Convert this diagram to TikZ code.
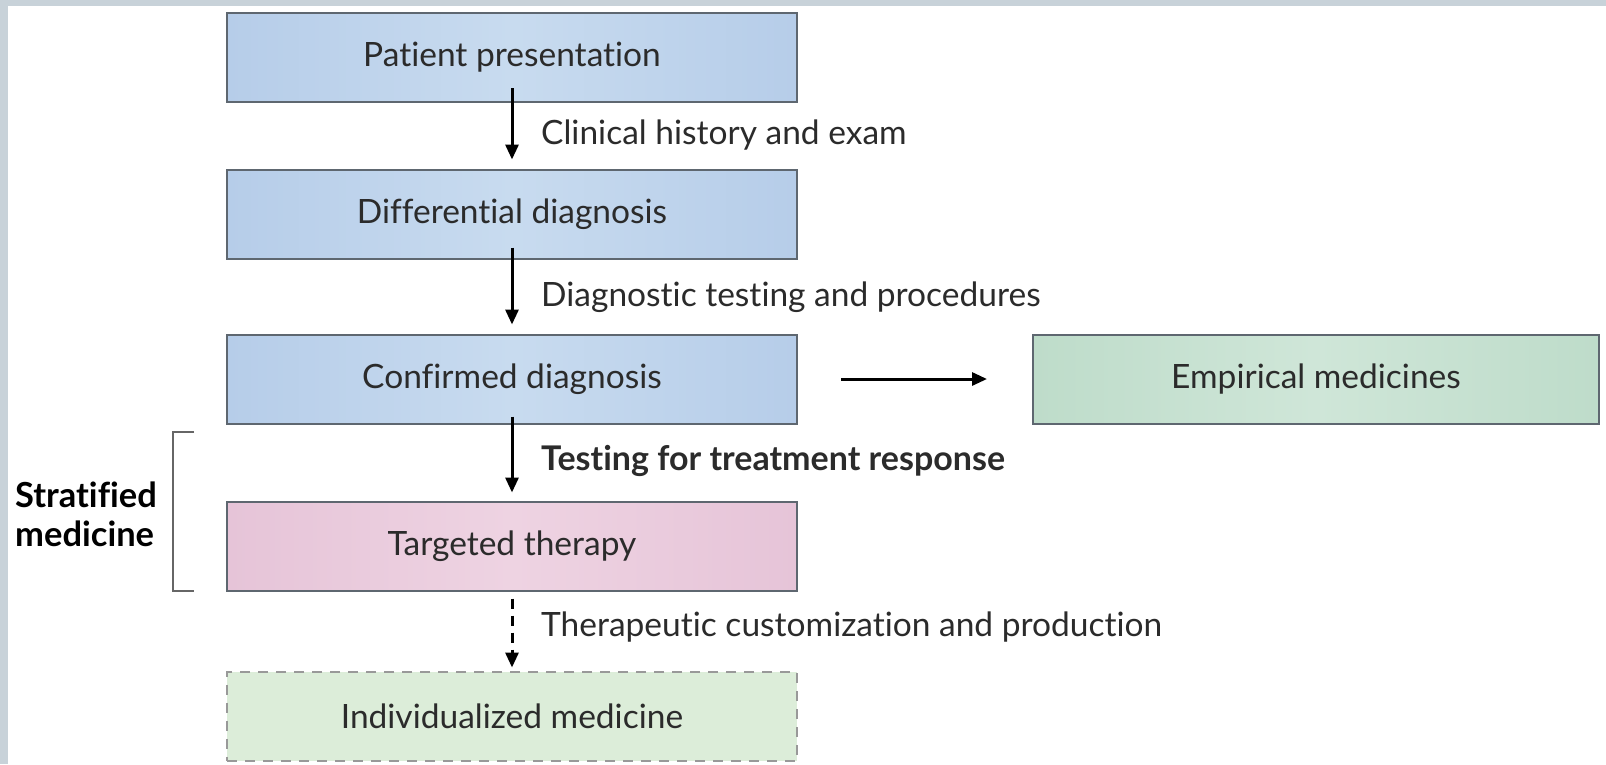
\documentclass[tikz,border=0pt]{standalone}
\usepackage{fontspec}
\setmainfont{Lato}[Ligatures={NoCommon,NoDiscretionary}]
\usetikzlibrary{arrows.meta}
\definecolor{frame}{HTML}{C8D2D9}
\definecolor{edge}{HTML}{5E6770}
\definecolor{blueA}{HTML}{B6CDE9}
\definecolor{blueB}{HTML}{C8DBEF}
\definecolor{pinkA}{HTML}{E6C4D8}
\definecolor{pinkB}{HTML}{EED3E2}
\definecolor{greenA}{HTML}{BEDCCA}
\definecolor{greenB}{HTML}{CFE6D8}
\definecolor{lgreen}{HTML}{DCEDD9}
\definecolor{txt}{HTML}{2B2B2B}
\tikzset{
  box/.style={draw=edge, line width=2pt, minimum width=570pt, minimum height=89pt,
    inner sep=0pt, font=\fontsize{33.5}{38}\selectfont, text=txt},
  bluebox/.style={box, left color=blueA, right color=blueA, middle color=blueB},
  pinkbox/.style={box, left color=pinkA, right color=pinkA, middle color=pinkB},
  greenbox/.style={box, left color=greenA, right color=greenA, middle color=greenB},
  dashbox/.style={box, draw=gray!80, fill=lgreen, dash pattern=on 10pt off 8pt},
  flow/.style={line width=3pt, -{Triangle[length=15pt,width=13pt]}},
  lbl/.style={anchor=west, inner sep=0pt, font=\fontsize{33.5}{38}\selectfont, text=txt},
}
\begin{document}
\begin{tikzpicture}[x=1pt,y=1pt]
\useasboundingbox (0,0) rectangle (1606,-764);
\fill[frame] (0,0) rectangle (1606,-764);
\fill[white] (8,-6) rectangle (1606,-764);

\node[bluebox] (p) at (512,-57.5) {Patient presentation};
\node[bluebox] (d) at (512,-214) {Differential diagnosis};
\node[bluebox] (c) at (512,-379) {Confirmed diagnosis};
\node[greenbox, minimum width=566pt] (e) at (1316,-379) {Empirical medicines};
\node[pinkbox] (t) at (512,-546) {Targeted therapy};
\node[dashbox] (i) at (512,-716) {Individualized medicine};

\draw[flow] ([yshift=15pt]p.south) -- ([yshift=9pt]d.north);
\draw[flow] ([yshift=12pt]d.south) -- ([yshift=9pt]c.north);
\draw[flow] ([yshift=8pt]c.south) -- ([yshift=8pt]t.north);
\draw[line width=3pt, dash pattern=on 10pt off 7pt, -{Triangle[length=15pt,width=13pt]}]
  ([yshift=-7pt]t.south) -- ([yshift=3pt]i.north);
\draw[flow] ([xshift=43pt]c.east) -- ([xshift=-45pt]e.west);

\node[lbl] (l1) at (541,-135) {Clinical history and exam};
\node[lbl] (l2) at (541,-297) {Diagnostic testing and procedures};
\node[lbl, font=\fontsize{34}{38}\selectfont\bfseries] (l3) at (541,-461) {Testing for treatment response};
\node[lbl] (l4) at (541,-627) {Therapeutic customization and production};

\coordinate (bt) at (194,-432);
\coordinate (bb) at (194,-591);
\draw[gray!80!black, line width=2pt] (bt) -- ++(-21,0) |- (bb);
\node[anchor=west, align=left, inner sep=0pt, text=black,
  font=\fontsize{34.5}{39}\selectfont\bfseries] (s) at (15,-514) {Stratified\\medicine};
\end{tikzpicture}
\end{document}
